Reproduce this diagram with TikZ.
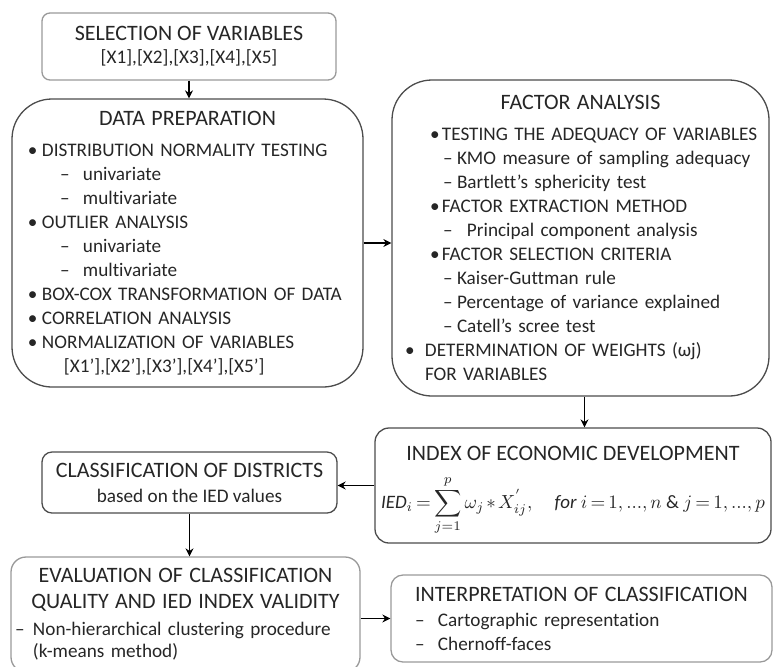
\documentclass[tikz,border=0pt]{standalone}
\usepackage{fontspec}
\setmainfont{Carlito}[Ligatures=NoCommon]
\usepackage{graphicx}
\usepackage{tikz}
\usetikzlibrary{arrows.meta, positioning, calc}
\setlength{\parindent}{0pt}

\newcommand{\ptitle}{\fontsize{11}{13}\selectfont}
\newcommand{\phead}[1]{\makebox[\linewidth]{\ptitle #1}}
\newcommand{\pbul}[1][7pt]{\makebox[#1][l]{\textbullet}}
\newcommand{\pdash}[1][11.5pt]{\makebox[#1][l]{–}}

\tikzset{
    box/.style={draw=black!70, line width=0.65pt, text=black!85, inner sep=0pt,
        font=\fontsize{9.6}{12}\selectfont},
    lbox/.style={box, draw=black!40},
    arr/.style={-{Stealth[length=4pt,width=4pt]}, line width=0.6pt}
}

\begin{document}
\begin{tikzpicture}[x=0.5pt, y=-0.5pt]
                        \useasboundingbox (0,0) rectangle (774,666);

                        \node[lbox, rounded corners=4pt, minimum width=147pt, minimum height=33.5pt, align=center] (sel) at (189, 46.5)
                        {{\ptitle SELECTION OF VARIABLES}\\[-0.5pt]
                        [X1],[X2],[X3],[X4],[X5]};

                        \node[box, rounded corners=20pt, minimum width=175.5pt, minimum height=144pt, text width=163pt, align=left] (prep) at (187.5, 243)
                        {\phead{DATA PREPARATION}\\[3.5pt]
                        \hspace*{1.75pt}\pbul DISTRIBUTION NORMALITY TESTING\\
                        \hspace*{17.75pt}\pdash univariate\\
                        \hspace*{17.75pt}\pdash multivariate\\
                        \hspace*{1.75pt}\pbul OUTLIER ANALYSIS\\
                        \hspace*{17.75pt}\pdash univariate\\
                        \hspace*{17.75pt}\pdash multivariate\\
                        \hspace*{1.75pt}\pbul BOX-COX TRANSFORMATION OF DATA\\
                        \hspace*{1.75pt}\pbul CORRELATION ANALYSIS\\
                        \hspace*{1.75pt}\pbul NORMALIZATION OF VARIABLES\\
                        \hspace*{19.75pt}[X1’],[X2’],[X3’],[X4’],[X5’]};

                        \node[box, rounded corners=20pt, minimum width=188.5pt, minimum height=158pt, text width=180pt, align=left] (fa) at (580.5, 238)
                        {\phead{FACTOR ANALYSIS}\\[3.5pt]
                        \hspace*{14.75pt}\pbul[6pt]TESTING THE ADEQUACY OF VARIABLES\\
                        \hspace*{21.25pt}\pdash[7pt]KMO measure of sampling adequacy\\
                        \hspace*{21.25pt}\pdash[7pt]Bartlett’s sphericity test\\
                        \hspace*{14.75pt}\pbul[6pt]FACTOR EXTRACTION METHOD\\
                        \hspace*{21.25pt}\pdash[12pt]Principal component analysis\\
                        \hspace*{14.75pt}\pbul[6pt]FACTOR SELECTION CRITERIA\\
                        \hspace*{21.25pt}\pdash[7pt]Kaiser-Guttman rule\\
                        \hspace*{21.25pt}\pdash[7pt]Percentage of variance explained\\
                        \hspace*{21.25pt}\pdash[7pt]Catell’s scree test\\
                        \hspace*{2.25pt}\pbul[10pt]DETERMINATION OF WEIGHTS (ωj)\\
                        \hspace*{12.25pt}FOR VARIABLES};

                        \node[box, rounded corners=7pt, minimum width=198pt, minimum height=57.5pt, align=center] (ied) at (573, 485.5)
                        {{\ptitle INDEX OF ECONOMIC DEVELOPMENT}\\[2pt]
                        \raisebox{-5pt}[\height][\depth]{\resizebox{192pt}{!}{\fontsize{10}{12}\selectfont \thickmuskip=3mu \medmuskip=2mu
                        $\displaystyle \mathit{IED}_i = \sum_{j=1}^{p}\omega_j * X^{'}_{ij},\quad \mathit{for}\ i=1,...,n\ \&\ j=1,...,p$}}};

                        \node[box, rounded corners=5pt, minimum width=147.5pt, minimum height=30.5pt, align=center] (cls) at (189.5, 482.5)
                        {{\ptitle CLASSIFICATION OF DISTRICTS}\\[0.5pt]
                        based on the IED values};

                        \node[lbox, rounded corners=7.5pt, minimum width=174.5pt, minimum height=57.5pt, text width=170.5pt, align=left] (eva) at (185.5, 614.5)
                        {\phead{EVALUATION OF CLASSIFICATION}\\[1pt]
                        \phead{QUALITY AND IED INDEX VALIDITY}\\[1.5pt]
                        \pdash[9pt]Non-hierarchical clustering procedure\\[-1pt]
                        \hspace*{9pt}(k-means method)};

                        \node[lbox, rounded corners=6pt, minimum width=190.5pt, minimum height=43.5pt, text width=174pt, align=left] (int) at (581.5, 618.5)
                        {\phead{INTERPRETATION OF CLASSIFICATION}\\[0.5pt]
                        \hspace*{3.75pt}\pdash Cartographic representation\\
                        \hspace*{3.75pt}\pdash Chernoff-faces};

                        \draw[arr] (sel.south) -- (sel.south |- prep.north);
                        \draw[arr] (prep.east) -- (prep.east -| fa.west);
                        \draw[arr] ([xshift=2pt]fa.south) -- ([xshift=2pt]fa.south |- ied.north);
                        \draw[arr] (ied.west) -- (ied.west -| cls.east);
                        \draw[arr] (cls.south) -- (cls.south |- eva.north);
                        \draw[arr] (int.west -| eva.east) -- (int.west);
                    \end{tikzpicture}
\end{document}
